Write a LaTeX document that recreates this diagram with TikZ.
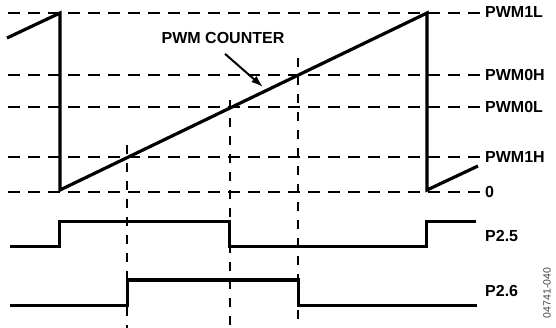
\documentclass[tikz,border=0pt]{standalone}
\usepackage{fontspec}
\setmainfont{Liberation Sans}
\usepackage{tikz}
\usetikzlibrary{arrows.meta}
\definecolor{CodeGray}{HTML}{444444}

\begin{document}
\begin{tikzpicture}[x=1pt, y=-1pt,
    level/.style={draw, dash pattern=on 12pt off 8pt, line width=1.3pt},
    lbl/.style={anchor=west, inner sep=5pt, font=\fontsize{16}{19}\selectfont\bfseries},
    wave/.style={line width=3pt, line join=miter},
    saw/.style={line width=3.2pt, line join=miter}]
      \useasboundingbox (0,0) rectangle (556,328);
      % Nodes
      \node[lbl] (l1L) at (480,12) {PWM1L};
      \node[lbl] (l0H) at (480,75) {PWM0H};
      \node[lbl] (l0L) at (480,107) {PWM0L};
      \node[lbl] (l1H) at (480,157) {PWM1H};
      \node[lbl] (lzero) at (480,192) {0};
      \node[lbl] (p25) at (480,236) {P2.5};
      \node[lbl] (p26) at (480,291) {P2.6};
      \node[anchor=center, inner sep=5pt, font=\fontsize{16}{19}\selectfont\bfseries] (cnt) at (223,38) {PWM COUNTER};
      \node[rotate=90, text=CodeGray, inner sep=0pt, font=\fontsize{10.5}{12}\selectfont] (code) at (547,293) {04741-040};
      \coordinate (tip) at (263,87);
      % Levels
      \draw[level] (8,13) -- (l1L.west |- 8,13);
      \draw[level] (8,75) -- (l0H.west);
      \draw[level] (8,107) -- (l0L.west);
      \draw[level] (8,157) -- (l1H.west);
      \draw[level] (8,192) -- (lzero.west |- 8,192);
      % Compare instants
      \draw[level, dash pattern=on 9pt off 9pt] (127,145) -- (127,328);
      \draw[level, dash pattern=on 9pt off 9pt] (230,100) -- (230,328);
      \draw[level, dash pattern=on 9pt off 9pt] (298,58) -- (298,328);
      % Counter
      \draw[saw] (7,38) -- (60,13) -- (60,190) -- (427,13) -- (427,190) -- (478,166);
      \draw[line width=2pt, -{Latex[length=12pt, width=8pt]}] ([xshift=2pt, yshift=-5pt]cnt.south) -- (tip);
      % Outputs
      \draw[wave] (10,247) -- (59,247) -- (59,222) -- (229,222) -- (229,247) -- (426,247) -- (426,222) -- (476,222);
      \draw[wave] (10,305) -- (127,305) -- (127,280) -- (298,280) -- (298,305) -- (477,305);
    \end{tikzpicture}
\end{document}
